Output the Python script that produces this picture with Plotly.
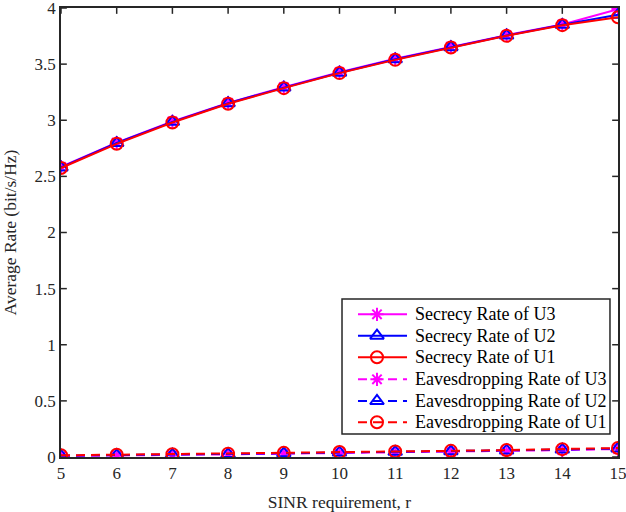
import plotly.graph_objects as go

x = [5, 6, 7, 8, 9, 10, 11, 12, 13, 14, 15]
sec_u3 = [2.585, 2.80, 2.99, 3.155, 3.295, 3.428, 3.547, 3.655, 3.758, 3.853, 3.99]
sec_u2 = [2.58, 2.797, 2.986, 3.152, 3.291, 3.424, 3.543, 3.651, 3.755, 3.85, 3.94]
sec_u1 = [2.575, 2.79, 2.98, 3.147, 3.286, 3.42, 3.538, 3.648, 3.752, 3.847, 3.918]
eav_u3 = [0.008, 0.012, 0.017, 0.022, 0.029, 0.036, 0.041, 0.046, 0.053, 0.061, 0.071]
eav_u2 = [0.012, 0.016, 0.021, 0.026, 0.033, 0.04, 0.046, 0.051, 0.058, 0.066, 0.076]
eav_u1 = [0.015, 0.02, 0.025, 0.03, 0.037, 0.045, 0.05, 0.055, 0.062, 0.07, 0.08]
y_ticks = [0, 0.5, 1, 1.5, 2, 2.5, 3, 3.5, 4]
y_ticktext = ["0", "0.5", "1", "1.5", "2", "2.5", "3", "3.5", "4"]

names = ["Secrecy Rate of U3", "Secrecy Rate of U2", "Secrecy Rate of U1",
         "Eavesdropping Rate of U3", "Eavesdropping Rate of U2", "Eavesdropping Rate of U1"]
series = [sec_u3, sec_u2, sec_u1, eav_u3, eav_u2, eav_u1]
colors = ["#FF00FF", "#0000FF", "#FF0000"] * 2
symbols = ["asterisk-open", "triangle-up-open", "circle-open"] * 2
sizes = [11, 12, 12] * 2
dashes = ["solid"] * 3 + ["9px,6px"] * 3

font = "Liberation Serif, Times New Roman, serif"
X_RANGE = [5, 15]
Y_RANGE = [0, 4]
AXIS_COLOR = "#262626"
TICK_FRAC = 0.013  # tick length as a fraction of the plot area

fig = go.Figure()

# MATLAB-style inside tick marks on the top and right edges (mirror of bottom/left)
dx = TICK_FRAC * (X_RANGE[1] - X_RANGE[0]) * 449 / 557
dy = TICK_FRAC * (Y_RANGE[1] - Y_RANGE[0])
tx, ty = [], []
for xt in x:
    tx += [xt, xt, None, xt, xt, None]
    ty += [Y_RANGE[0], Y_RANGE[0] + dy, None, Y_RANGE[1], Y_RANGE[1] - dy, None]
for yt in y_ticks:
    tx += [X_RANGE[0], X_RANGE[0] + dx, None, X_RANGE[1], X_RANGE[1] - dx, None]
    ty += [yt, yt, None, yt, yt, None]
fig.add_trace(go.Scatter(x=tx, y=ty, mode="lines", showlegend=False, hoverinfo="skip",
                         line=dict(color=AXIS_COLOR, width=1.5)))

for name, ys, c, s, sz, d in zip(names, series, colors, symbols, sizes, dashes):
    fig.add_trace(go.Scatter(
        x=x, y=ys, name=name, mode="lines+markers", showlegend=False,
        line=dict(color=c, width=2, dash=d),
        marker=dict(symbol=s, size=sz, color=c, line=dict(color=c, width=2)),
    ))

# MATLAB-style legend box (fractions of the plot area), mapped through the axes
def fx(p):
    return X_RANGE[0] + p * (X_RANGE[1] - X_RANGE[0])

def fy(p):
    return Y_RANGE[0] + p * (Y_RANGE[1] - Y_RANGE[0])

leg_x0, leg_x1, leg_y0, leg_y1 = 0.5045, 0.9856, 0.0512, 0.3519
sample_x0, sample_x1, sample_mid, text_x = 0.5332, 0.6212, 0.5673, 0.632
row_y = [0.3178, 0.2702, 0.2220, 0.1731, 0.1247, 0.0773]

fig.add_shape(type="rect", xref="x", yref="y", x0=fx(leg_x0), x1=fx(leg_x1),
              y0=fy(leg_y0), y1=fy(leg_y1),
              line=dict(color=AXIS_COLOR, width=1.5), fillcolor="white", layer="below")
for name, c, s, sz, d, ry in zip(names, colors, symbols, sizes, dashes, row_y):
    fig.add_trace(go.Scatter(x=[fx(sample_x0), fx(sample_x1)], y=[fy(ry), fy(ry)], mode="lines",
                             showlegend=False, hoverinfo="skip",
                             line=dict(color=c, width=2, dash=d)))
    fig.add_trace(go.Scatter(x=[fx(sample_mid)], y=[fy(ry)], mode="markers",
                             showlegend=False, hoverinfo="skip",
                             marker=dict(symbol=s, size=sz, color=c, line=dict(color=c, width=2))))
    fig.add_annotation(x=fx(text_x), y=fy(ry), xref="x", yref="y", text=name, showarrow=False,
                       xanchor="left", yanchor="middle",
                       font=dict(family=font, size=18, color="#000000"))

axis_common = dict(
    showgrid=False, zeroline=False, showline=True, linecolor=AXIS_COLOR, linewidth=1.5,
    mirror=True, ticks="", automargin=False, ticklabeloverflow="allow",
    tickfont=dict(family=font, size=17, color=AXIS_COLOR),
)
fig.update_layout(
    width=626, height=512,
    margin=dict(l=61, r=8, t=8, b=55),
    paper_bgcolor="white", plot_bgcolor="white",
    font=dict(family=font, size=17, color=AXIS_COLOR),
    xaxis=dict(range=X_RANGE, tickvals=x, tickmode="array",
               title=dict(text="SINR requirement, r", font=dict(size=17.5), standoff=18), **axis_common),
    yaxis=dict(range=Y_RANGE, tickvals=y_ticks, ticktext=y_ticktext, tickmode="array",
               title=dict(text="Average Rate (bit/s/Hz)", font=dict(size=17.5), standoff=17), **axis_common),
    showlegend=False,
)
fig.write_html("out.html", config={"displayModeBar": False},
               post_script="document.body.style.margin='0';document.body.style.overflow='hidden';")
